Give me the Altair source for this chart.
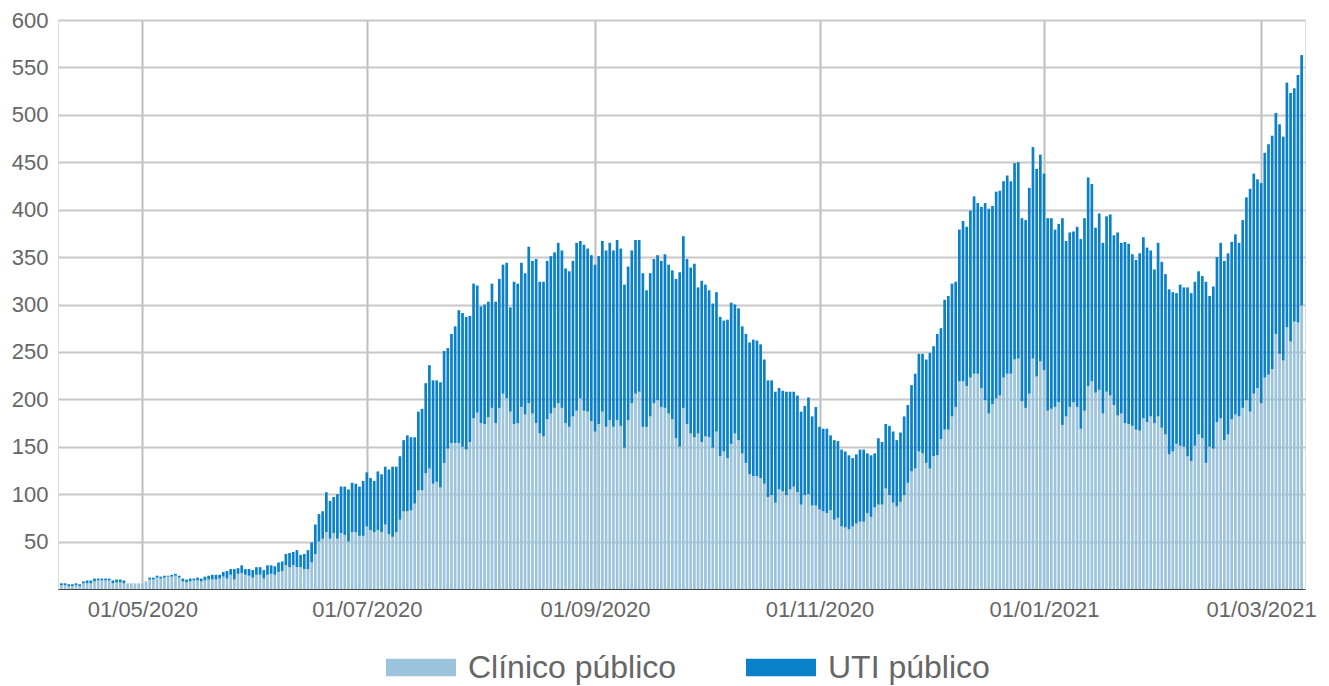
import altair as alt
import pandas as pd

# --- values (daily, 09/04/2020 .. 12/03/2021) ---
clinico_abr = [4, 4, 3, 3, 4, 3, 6, 6, 6, 8, 9, 9, 9, 9, 6, 7, 7, 6, 6, 6, 6, 6]
uti_abr = [2, 2, 2, 2, 2, 2, 2, 3, 3, 3, 2, 2, 2, 2, 3, 3, 3, 3, 0, 0, 0, 0]

clinico_mai = [6, 8, 10, 10, 12, 11, 12, 13, 13, 14, 12, 8, 7, 8, 9, 9, 8, 9, 10, 10,
               10, 11, 13, 11, 15, 10, 16, 17, 15, 14, 12]
uti_mai = [0, 0, 2, 2, 2, 2, 2, 1, 2, 2, 2, 3, 3, 3, 2, 3, 3, 4, 4, 5,
           5, 4, 5, 8, 6, 11, 6, 8, 6, 7, 8]

clinico_jun = [15, 15, 11, 15, 16, 15, 18, 19, 25, 23, 25, 23, 23, 21, 21, 28, 37, 50, 53, 60,
               53, 59, 53, 59, 57, 50, 60, 60, 56, 56]
uti_jun = [8, 8, 9, 10, 9, 9, 10, 10, 12, 15, 14, 18, 13, 16, 20, 21, 31, 29, 29, 42,
           40, 38, 47, 49, 51, 55, 52, 51, 52, 58]

clinico_jul = [66, 62, 60, 62, 60, 68, 58, 55, 60, 73, 82, 82, 83, 90, 104, 104, 122, 127, 111, 113,
               107, 133, 148, 154, 154, 154, 150, 147, 155, 180, 186]
uti_jul = [57, 55, 54, 62, 61, 61, 68, 74, 69, 67, 75, 80, 77, 70, 83, 86, 95, 109, 109, 107,
           111, 118, 106, 115, 123, 140, 141, 140, 133, 142, 134]

clinico_ago = [175, 174, 181, 191, 175, 191, 206, 201, 187, 174, 175, 192, 184, 196, 185, 175, 164, 161, 179, 185,
               191, 196, 191, 175, 171, 182, 188, 201, 188, 187, 177]
uti_ago = [123, 126, 122, 131, 128, 136, 136, 143, 110, 150, 147, 152, 149, 165, 161, 173, 160, 163, 167, 166,
           164, 169, 166, 163, 164, 164, 177, 166, 175, 172, 175]

clinico_set = [166, 174, 187, 171, 178, 171, 178, 172, 149, 178, 196, 206, 208, 171, 171, 182, 196, 199, 192, 191,
               185, 179, 159, 150, 191, 174, 164, 160, 164, 155]
uti_set = [176, 177, 180, 186, 187, 186, 190, 187, 172, 162, 161, 162, 160, 162, 144, 151, 152, 153, 154, 162,
           157, 157, 168, 184, 181, 174, 175, 183, 154, 170]

clinico_out = [161, 160, 149, 166, 140, 145, 138, 153, 164, 157, 143, 133, 121, 119, 119, 117, 111, 97, 99, 91,
               105, 103, 99, 105, 108, 102, 89, 99, 100, 88, 88]
uti_out = [160, 155, 152, 147, 147, 138, 146, 149, 136, 139, 134, 136, 139, 144, 143, 141, 131, 123, 121, 117,
           107, 106, 109, 103, 100, 102, 98, 94, 102, 94, 104]

clinico_nov = [84, 82, 80, 83, 73, 75, 66, 65, 63, 66, 69, 71, 71, 80, 76, 86, 89, 89, 106, 99,
               91, 87, 92, 99, 112, 124, 127, 145, 143, 133]
uti_nov = [87, 87, 89, 79, 84, 81, 81, 80, 78, 72, 73, 76, 76, 63, 65, 57, 70, 66, 68, 73,
           75, 70, 73, 83, 82, 91, 100, 103, 105, 109]

clinico_dez = [127, 140, 141, 158, 168, 168, 182, 192, 219, 219, 214, 223, 227, 227, 212, 199, 185, 195, 201, 204,
               223, 227, 227, 242, 243, 198, 191, 206, 243, 224, 240]
uti_dez = [122, 116, 128, 117, 137, 141, 140, 132, 160, 169, 168, 176, 187, 180, 191, 208, 216, 209, 218, 216,
           207, 209, 203, 207, 207, 193, 198, 217, 223, 219, 218]

clinico_jan = [231, 188, 190, 192, 197, 173, 182, 192, 197, 192, 169, 188, 214, 219, 207, 210, 185, 208, 204, 194,
               183, 185, 175, 174, 172, 168, 167, 180, 176, 182, 175]
uti_jan = [207, 203, 201, 187, 188, 218, 185, 184, 180, 190, 200, 203, 220, 208, 174, 186, 180, 185, 191, 179,
           193, 180, 191, 190, 181, 179, 187, 191, 184, 175, 162]

clinico_fev = [182, 170, 163, 142, 145, 153, 151, 150, 140, 135, 151, 163, 159, 133, 150, 148, 176, 180, 157, 163,
               179, 184, 182, 191, 199, 187, 206, 212]
uti_fev = [183, 175, 169, 174, 168, 159, 170, 168, 178, 177, 173, 172, 171, 191, 159, 171, 174, 185, 189, 191,
           187, 190, 183, 198, 214, 235, 232, 220]

clinico_mar = [196, 223, 226, 232, 269, 248, 241, 276, 261, 282, 281, 299]
uti_mar = [232, 237, 243, 246, 233, 242, 236, 258, 262, 246, 261, 264]

series_names = ["Clínico público", "UTI público"]
series_colors = ["#9cc3dc", "#0a80c9"]

clinico = (clinico_abr + clinico_mai + clinico_jun + clinico_jul + clinico_ago + clinico_set
           + clinico_out + clinico_nov + clinico_dez + clinico_jan + clinico_fev + clinico_mar)
uti = (uti_abr + uti_mai + uti_jun + uti_jul + uti_ago + uti_set
       + uti_out + uti_nov + uti_dez + uti_jan + uti_fev + uti_mar)
datas = pd.date_range("2020-04-09", "2021-03-12", freq="D")
n = min(len(datas), len(clinico), len(uti))

rows = []
for d, c, u in zip(datas[:n], clinico[:n], uti[:n]):
    ds = d.strftime("%Y-%m-%dT00:00:00")
    rows.append({"data": ds, "serie": series_names[0], "valor": c, "ordem": 0})
    rows.append({"data": ds, "serie": series_names[1], "valor": u, "ordem": 1})
df = pd.DataFrame(rows)

x_ticks = [alt.DateTime(year=2020, month=m, date=1) for m in (5, 7, 9, 11)] + \
          [alt.DateTime(year=2021, month=m, date=1) for m in (1, 3)]

FONT = "Liberation Sans"

chart = alt.Chart(df).mark_bar(width=2.7).encode(
    x=alt.X(
        "data:T",
        scale=alt.Scale(domain=[alt.DateTime(year=2020, month=4, date=8, hours=2),
                                alt.DateTime(year=2021, month=3, date=12, hours=22)],
                        padding=0),
        axis=alt.Axis(values=x_ticks, format="%d/%m/%Y", title=None, grid=True,
                      gridColor="#bdbdbd", gridWidth=2, ticks=False, labelPadding=10,
                      labelFontSize=22, labelColor="#666666", labelFont=FONT,
                      domain=True, domainColor="#444444", domainWidth=1, labelFlush=False),
    ),
    y=alt.Y(
        "valor:Q", stack="zero",
        scale=alt.Scale(domain=[0, 600], nice=False),
        axis=alt.Axis(values=list(range(50, 601, 50)), title=None, grid=True,
                      gridColor="#c8c8c8", gridWidth=2, ticks=False, domain=False,
                      labelPadding=10, labelFontSize=22, labelColor="#666666", labelFont=FONT),
    ),
    color=alt.Color(
        "serie:N",
        scale=alt.Scale(domain=series_names, range=series_colors),
        legend=alt.Legend(title=None, orient="none", legendX=328, legendY=612.5,
                          direction="horizontal", symbolType="M-1,-0.25H1V0.25H-1Z",
                          symbolSize=4900, symbolStrokeWidth=0, symbolOpacity=1,
                          labelFontSize=32, labelFont=FONT, labelColor="#666666",
                          labelLimit=600, labelOffset=12, columnPadding=69, padding=0),
    ),
    order=alt.Order("ordem:Q", sort="ascending"),
).properties(
    width=1247,
    height=569,
    autosize=alt.AutoSizeParams(type="none"),
    padding={"left": 50, "top": 12, "right": 14, "bottom": 97},
).configure_view(stroke=None).configure(background="white")

chart.save("out.html", embed_options={"renderer": "svg", "actions": False})
